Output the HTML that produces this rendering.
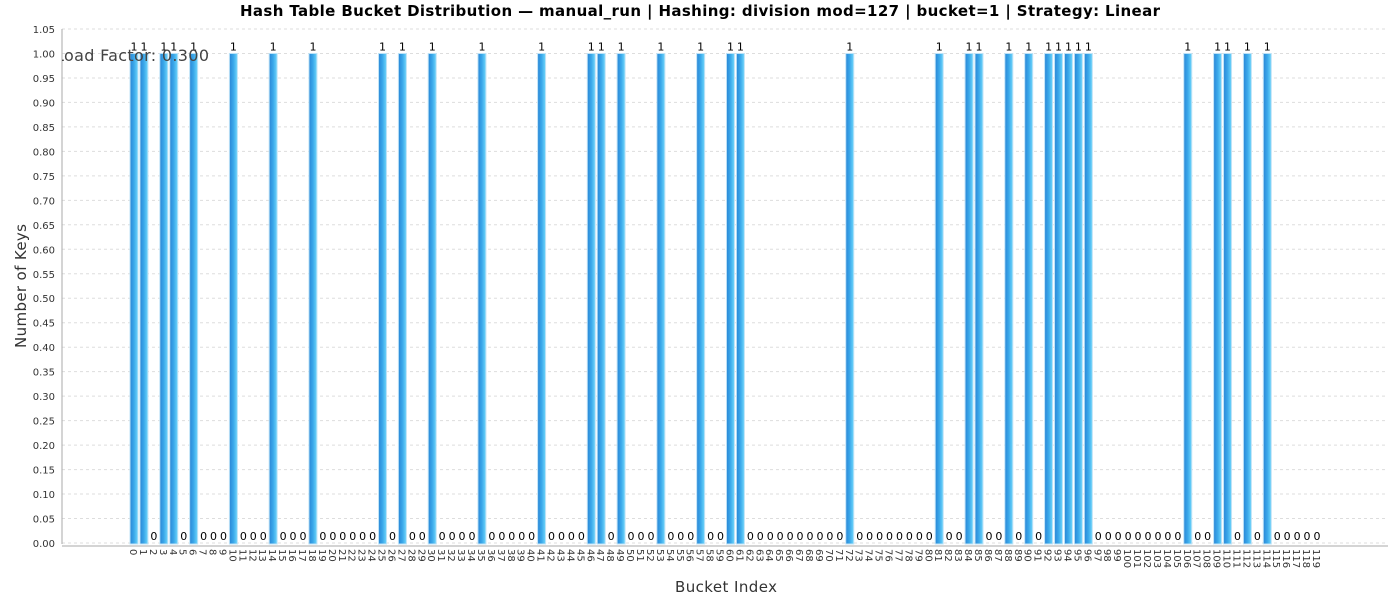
<!DOCTYPE html>
<html><head><meta charset="utf-8"><style>
body{margin:0;background:#fff;}
svg{display:block;font-family:"DejaVu Sans","Liberation Sans",sans-serif;}
</style></head><body>
<svg id="chart" width="1400" height="600">
<defs>
<linearGradient id="bg" x1="0" x2="1" y1="0" y2="0">
<stop offset="0" stop-color="#2a86d6"/><stop offset="0.5" stop-color="#3aa8ea"/><stop offset="1" stop-color="#6fd6fb"/>
</linearGradient>
<clipPath id="pc"><rect x="62" y="20" width="1330" height="524"/></clipPath>
</defs>
<text x="700" y="16" text-anchor="middle" font-size="15" font-weight="bold" fill="#000" textLength="920" lengthAdjust="spacing">Hash Table Bucket Distribution — manual_run | Hashing: division mod=127 | bucket=1 | Strategy: Linear</text>
<g id="grid"></g>
<g id="bars"></g>
<g id="ylab"></g>
<g id="xlab"></g>
<g id="vals"></g>
<line x1="62" y1="29" x2="62" y2="544" stroke="#aaa"/>
<line x1="62" y1="546" x2="1388" y2="546" stroke="#aaa"/>
<text x="55" y="61" font-size="16" fill="#444" textLength="154" lengthAdjust="spacing" clip-path="url(#pc)">Load Factor: 0.300</text>
<text transform="translate(26,286) rotate(-90)" text-anchor="middle" font-size="15" fill="#333" textLength="124">Number of Keys</text>
<text x="726" y="592" text-anchor="middle" font-size="15" fill="#333" textLength="102">Bucket Index</text>
</svg>
<script>
const ones = [0,1,3,4,6,10,14,18,25,27,30,35,41,46,47,49,53,57,60,61,72,81,84,85,88,90,92,93,94,95,96,106,109,110,112,114];
const bucketCount = 120;
const yTicks = [0,0.05,0.1,0.15,0.2,0.25,0.3,0.35,0.4,0.45,0.5,0.55,0.6,0.65,0.7,0.75,0.8,0.85,0.9,0.95,1.0,1.05];
const categories = Array.from({length:bucketCount},(_,i)=>String(i));
const values = categories.map((c,i)=>ones.includes(i)?1:0);
const NS="http://www.w3.org/2000/svg";
function y(v){return 543-(v/1.05)*514;}
function x(i){return 134+i*(1317-134)/(bucketCount-1);}
function mk(tag,attrs,parent){const e=document.createElementNS(NS,tag);for(const k in attrs)e.setAttribute(k,attrs[k]);document.getElementById(parent).appendChild(e);return e;}
yTicks.forEach(t=>{
  const g=mk('line',{x1:62,x2:1388,y1:y(t),y2:y(t),stroke:'#ddd','stroke-dasharray':'3,3'},'grid');
  
  
  const l=mk('text',{x:55,y:y(t)+4,'text-anchor':'end','font-size':10,fill:'#333'},'ylab');
  l.textContent=t.toFixed(2);
  
  
});
categories.forEach((c,i)=>{
  const v=values[i];
  if(v>0){
    const b=mk('rect',{x:x(i)-4,y:y(v),width:8,height:y(0)-y(v)+1,fill:'url(#bg)',stroke:'#bfe3f7','stroke-width':1},'bars');
    
    
  }
  const vl=mk('text',{x:x(i),y:y(v)-3,'text-anchor':'middle','font-size':11,fill:'#000'},'vals');
  vl.textContent=String(v);
  
  
  const xl=mk('text',{transform:'translate('+(x(i)-4)+',549) rotate(90)','font-size':10,fill:'#333'},'xlab');
  xl.textContent=c;
  
  
});
</script>
</body></html>
